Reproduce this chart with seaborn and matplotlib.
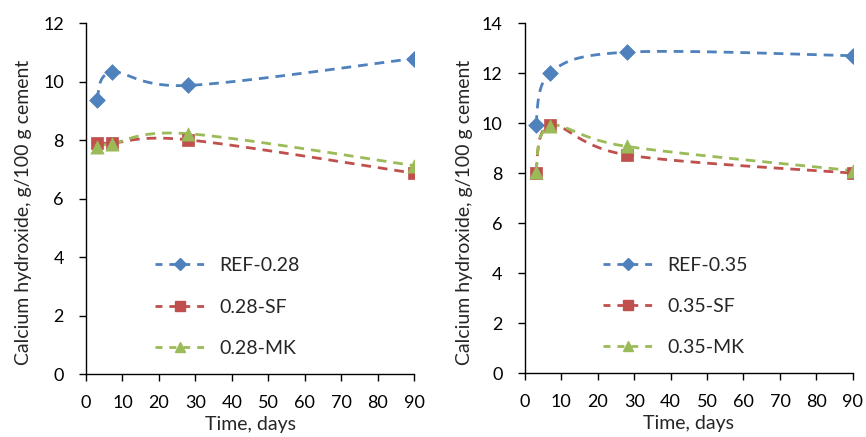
import numpy as np
import pandas as pd
import matplotlib
matplotlib.use("Agg")
import matplotlib.pyplot as plt
from matplotlib.lines import Line2D
import seaborn as sns

# Curing age, days
days = [3, 7, 28, 90]

# Calcium hydroxide content, g/100 g cement, w/b = 0.28
ref_028 = [9.38, 10.32, 9.87, 10.79]
sf_028 = [7.90, 7.90, 8.01, 6.87]
mk_028 = [7.78, 7.88, 8.22, 7.13]

# Calcium hydroxide content, g/100 g cement, w/b = 0.35
ref_035 = [9.93, 12.02, 12.84, 12.70]
sf_035 = [8.02, 9.93, 8.73, 8.00]
mk_035 = [8.06, 9.89, 9.07, 8.10]

labels_028 = ["REF-0.28", "0.28-SF", "0.28-MK"]
labels_035 = ["REF-0.35", "0.35-SF", "0.35-MK"]

colors = ["#4F81BD", "#C0504D", "#9BBB59"]
markers = ["D", "s", "^"]
msizes = [8, 9, 9.5]


def smooth(x, y, n=40):
    """Catmull-Rom style Bezier smoothing through the points."""
    p = np.column_stack([x, y]).astype(float)
    k = len(p)
    out = []
    for i in range(k - 1):
        p0 = p[i - 1] if i > 0 else p[i]
        p1, p2 = p[i], p[i + 1]
        p3 = p[i + 2] if i + 2 < k else p[i + 1]
        c1 = p1 + (p2 - p0) / 6.0
        c2 = p2 - (p3 - p1) / 6.0
        t = np.linspace(0, 1, n)[:, None]
        seg = ((1 - t) ** 3) * p1 + 3 * ((1 - t) ** 2) * t * c1 + 3 * (1 - t) * t ** 2 * c2 + t ** 3 * p2
        out.append(seg if i == 0 else seg[1:])
    s = np.vstack(out)
    return s[:, 0], s[:, 1]


sns.set_theme(style="ticks")
plt.rcParams["font.family"] = ["Lato", "DejaVu Sans"]
plt.rcParams["axes.linewidth"] = 1.0

fig = plt.figure(figsize=(8.66, 4.37), dpi=100)
ax1 = fig.add_axes([0.0993, 0.144, 0.3788, 0.803])
ax2 = fig.add_axes([0.606, 0.146, 0.3788, 0.801])

panels = [
    (ax1, [ref_028, sf_028, mk_028], labels_028, 12, -0.165, 0.21),
    (ax2, [ref_035, sf_035, mk_035], labels_035, 14, -0.159, 0.238),
]

for ax, series, labels, ymax, ylab_x, leg_x in panels:
    handles = []
    for vals, lab, c, m, ms in zip(series, labels, colors, markers, msizes):
        sx, sy = smooth(days, vals)
        curve = pd.DataFrame({"x": sx, "y": sy})
        sns.lineplot(data=curve, x="x", y="y", ax=ax, sort=False, color=c,
                     lw=2.0, dashes=False, linestyle=(0, (3.5, 2.5)), zorder=2)
        pts = pd.DataFrame({"x": days, "y": vals})
        sns.scatterplot(data=pts, x="x", y="y", ax=ax, color=c, marker=m,
                        s=ms ** 2, edgecolor=c, linewidth=0.5, zorder=3)
        handles.append(Line2D([], [], color=c, lw=2.0, linestyle=(0, (2.5, 2.5)),
                              marker=m, markersize=ms * 0.8, markeredgecolor=c))
    ax.set_xlim(0, 90)
    ax.set_ylim(0, ymax)
    ax.set_xticks(range(0, 91, 10))
    ax.set_yticks(range(0, ymax + 1, 2))
    ax.tick_params(axis="both", direction="out", length=5, width=1,
                   labelsize=13, colors="black")
    ax.tick_params(axis="x", pad=10)
    ax.tick_params(axis="y", pad=11)
    ax.set_xlabel("Time, days", fontsize=14)
    ax.set_ylabel("Calcium hydroxide, g/100 g cement", fontsize=14)
    ax.xaxis.set_label_coords(0.5, -0.12)
    ax.yaxis.set_label_coords(ylab_x, 0.46)
    for s in ("top", "right"):
        ax.spines[s].set_visible(False)
    for s in ("left", "bottom"):
        ax.spines[s].set_color("black")
    ax.legend(handles=handles, labels=labels, loc="center left",
              bbox_to_anchor=(leg_x, 0.191), frameon=False, fontsize=14,
              handlelength=2.6, labelspacing=1.25, handletextpad=0.7,
              borderaxespad=0, borderpad=0)

fig.savefig("out.png", dpi=100)
